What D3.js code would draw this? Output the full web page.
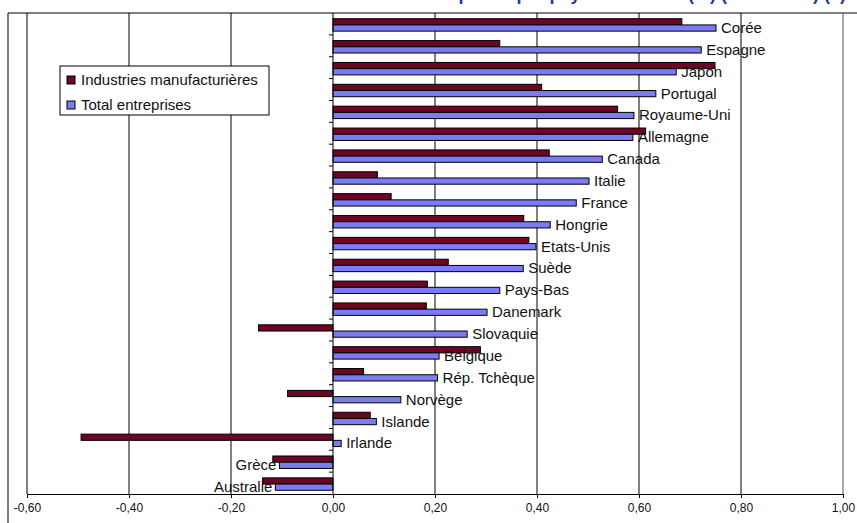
<!DOCTYPE html>
<html>
<head>
<meta charset="utf-8">
<script src="https://cdn.jsdelivr.net/npm/d3@7"></script>
<style>
  body { margin: 0; background: #fff; }
  svg text { font-family: "Liberation Sans", Arial, sans-serif; }
</style>
</head>
<body>
<svg width="857" height="523"></svg>
<script>
// data (top to bottom)
const countries = ["Corée","Espagne","Japon","Portugal","Royaume-Uni","Allemagne","Canada","Italie","France","Hongrie","Etats-Unis","Suède","Pays-Bas","Danemark","Slovaquie","Belgique","Rép. Tchèque","Norvège","Islande","Irlande","Grèce","Australie"];
const manuf = [0.684,0.327,0.749,0.409,0.558,0.613,0.424,0.087,0.114,0.374,0.384,0.226,0.185,0.183,-0.146,0.289,0.060,-0.089,0.073,-0.494,-0.118,-0.138];
const total = [0.751,0.722,0.673,0.633,0.590,0.588,0.528,0.502,0.477,0.426,0.398,0.373,0.327,0.302,0.263,0.208,0.205,0.133,0.085,0.016,-0.105,-0.113];
const seriesNames = ["Industries manufacturières","Total entreprises"];
const tickValues = [-0.6,-0.4,-0.2,0,0.2,0.4,0.6,0.8,1.0];
const title = "Intensité de la R-D des entreprises par pays de l'OCDE (%) (1995-2005) (1)";

const svg = d3.select("svg");
const colors = ["#6e0524", "#7b7bf4"];

const x = d3.scaleLinear().domain([-0.6, 1.0]).range([27, 843]);
const y = d3.scaleBand().domain(countries).range([13, 494]);
const sub = d3.scaleBand().domain([0, 1]).range([1, y.bandwidth() + 1]).paddingOuter(0.76);

const rows = countries.map((c, i) => ({name: c, vals: [manuf[i], total[i]]}));

// title (cut off at the top, only descenders show)
svg.append("text")
   .attr("x", 846).attr("y", 0)
   .attr("text-anchor", "end")
   .attr("font-size", 18).attr("font-weight", "bold")
   .attr("fill", "#1b3a9a")
   .text(title);

// outer frame
svg.append("line").attr("x1", 8).attr("x2", 857).attr("y1", 13).attr("y2", 13).attr("stroke", "#000");
svg.append("line").attr("x1", 8).attr("x2", 8).attr("y1", 13).attr("y2", 523).attr("stroke", "#000");

// grid
svg.append("g").selectAll("line")
   .data(tickValues.filter(d => d !== 0))
   .enter().append("line")
   .attr("x1", d => x(d)).attr("x2", d => x(d))
   .attr("y1", 13).attr("y2", 494)
   .attr("stroke", d => d === 1.0 ? "#555" : "#000")
   .attr("stroke-width", 1);

// bars
const grp = svg.append("g").selectAll("g")
   .data(rows).enter().append("g")
   .attr("transform", d => "translate(0," + y(d.name) + ")");

grp.selectAll("rect")
   .data(d => d.vals.map((v, k) => ({v, k})))
   .enter().append("rect")
   .attr("x", d => x(Math.min(0, d.v)))
   .attr("width", d => Math.abs(x(d.v) - x(0)))
   .attr("y", d => sub(d.k))
   .attr("height", sub.bandwidth())
   .attr("fill", d => colors[d.k])
   .attr("stroke", "#000")
   .attr("stroke-width", 1);

// labels next to the total bar
grp.append("text")
   .attr("x", d => d.vals[1] >= 0 ? x(d.vals[1]) + 5 : x(d.vals[1]) - 3)
   .attr("y", d => sub(1) + sub.bandwidth() / 2)
   .attr("dy", "0.33em")
   .attr("text-anchor", d => d.vals[1] >= 0 ? "start" : "end")
   .attr("font-size", 15)
   .attr("fill", "#111")
   .text(d => d.name);

// zero axis with category ticks
svg.append("line").attr("x1", x(0)).attr("x2", x(0)).attr("y1", 13).attr("y2", 494).attr("stroke", "#000");
svg.append("g").selectAll("line")
   .data(countries.slice(1))
   .enter().append("line")
   .attr("x1", x(0) - 4).attr("x2", x(0))
   .attr("y1", d => y(d)).attr("y2", d => y(d))
   .attr("stroke", "#000");

// x axis
const xAxis = d3.axisBottom(x)
   .tickValues(tickValues)
   .tickSize(4)
   .tickPadding(5)
   .tickFormat(d => d3.format(".2f")(d).replace(".", ",").replace("−", "-"));
const ax = svg.append("g").attr("transform", "translate(0,494)").call(xAxis);
ax.select(".domain").attr("stroke", "#000");
ax.selectAll(".tick line").attr("stroke", "#000");
ax.selectAll("text").attr("font-size", 12).attr("fill", "#111")
  .attr("font-family", "'Liberation Sans', Arial, sans-serif");

// legend
const lg = svg.append("g").attr("transform", "translate(60,66)");
lg.append("rect").attr("width", 209).attr("height", 49).attr("fill", "#fff").attr("stroke", "#000");
const li = lg.selectAll("g").data(seriesNames).enter().append("g")
   .attr("transform", (d, i) => "translate(7," + (14 + i * 25) + ")");
li.append("rect").attr("x", 0).attr("y", -4).attr("width", 8).attr("height", 8)
   .attr("fill", (d, i) => colors[i]).attr("stroke", "#000");
li.append("text").attr("x", 14).attr("dy", "0.35em").attr("font-size", 15).attr("fill", "#111").text(d => d);
</script>
</body>
</html>
